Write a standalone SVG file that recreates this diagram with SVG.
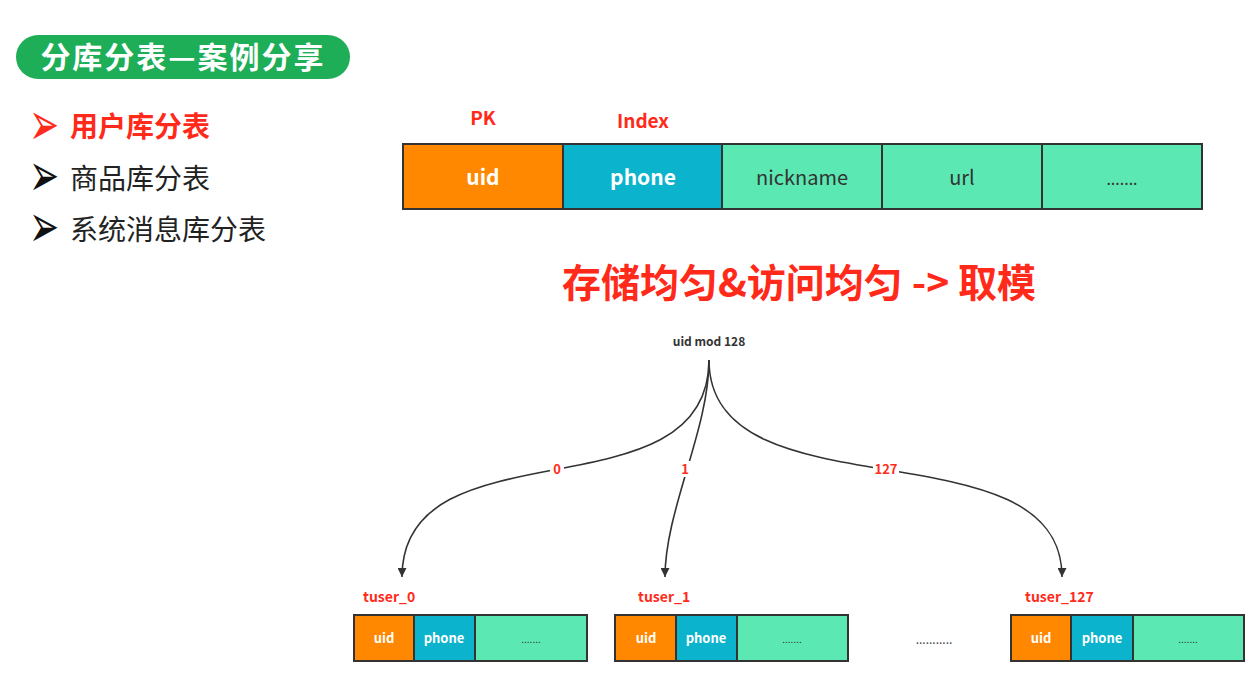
<svg xmlns="http://www.w3.org/2000/svg" width="1256" height="678" viewBox="0 0 1256 678">
<defs>
<style>
text{font-family:"Noto Sans CJK SC","Noto Sans",sans-serif}
.cell{stroke:#333;stroke-width:2}
.uid{fill:#FF8800}
.ph{fill:#0BB3CC}
.gr{fill:#5CE8B2}
.wt{fill:#fff;font-weight:bold;text-anchor:middle}
.dk{fill:#333;text-anchor:middle}
.red{fill:#FF2A1A;font-weight:bold}
.lbl{fill:#FF2A1A;font-weight:bold;font-size:13px;text-anchor:middle}
.edge{fill:none;stroke:#333;stroke-width:1.6}
.bul{font-family:"DejaVu Sans",sans-serif;font-size:36px}
</style>
<marker id="ah" viewBox="0 0 10 10" refX="10" refY="5" markerWidth="10" markerHeight="9" markerUnits="userSpaceOnUse" orient="auto">
<path d="M0,0 L10,5 L0,10 Z" fill="#333"/>
</marker>
</defs>
<rect width="1256" height="678" fill="#fff"/>

<g id="header">
<rect x="16" y="35" width="334" height="44" rx="22" fill="#1EAE58"/>
<text x="183" y="68" font-size="30" font-weight="bold" fill="#fff" text-anchor="middle" letter-spacing="2">分库分表—案例分享</text>
</g>

<g id="bullets">
<text transform="translate(29,125) scale(1,1.7)" y="12" class="bul" fill="#FF2A1A">➢</text>
<text x="70" y="137" font-size="28" class="red">用户库分表</text>
<text transform="translate(29,176) scale(1,1.7)" y="12" class="bul" fill="#111">➢</text>
<text x="70" y="189" font-size="28" fill="#222">商品库分表</text>
<text transform="translate(29,227) scale(1,1.7)" y="12" class="bul" fill="#111">➢</text>
<text x="70" y="240" font-size="28" fill="#222">系统消息库分表</text>
</g>

<g id="main-table">
<text x="483" y="125" font-size="19" class="red" text-anchor="middle">PK</text>
<text x="643" y="128" font-size="19" class="red" text-anchor="middle">Index</text>
<rect class="cell uid" x="403" y="144" width="160" height="65"/>
<rect class="cell ph" x="563" y="144" width="159" height="65"/>
<rect class="cell gr" x="722" y="144" width="160" height="65"/>
<rect class="cell gr" x="882" y="144" width="160" height="65"/>
<rect class="cell gr" x="1042" y="144" width="160" height="65"/>
<text x="483" y="185" font-size="21" class="wt">uid</text>
<text x="643" y="185" font-size="21" class="wt">phone</text>
<text x="802" y="185" font-size="20" class="dk">nickname</text>
<text x="962" y="185" font-size="20" class="dk">url</text>
<text x="1122" y="185" font-size="16" class="dk">.......</text>
</g>

<text x="799" y="297" font-size="39" class="red" text-anchor="middle">存储均匀&amp;访问均匀 -&gt; 取模</text>

<g id="root">
<text x="709" y="346" font-size="12" font-weight="bold" fill="#333" text-anchor="middle">uid mod 128</text>
</g>

<g id="connectors">
<path class="edge" d="M709,360 C709,520 402,420 402,577" marker-end="url(#ah)"/>
<path class="edge" d="M709,360 C709,430 665,510 665,577" marker-end="url(#ah)"/>
<path class="edge" d="M709,360 C709,520 1062,420 1062,577" marker-end="url(#ah)"/>
<rect x="550" y="461" width="14" height="16" fill="#fff"/>
<text x="557" y="474" class="lbl">0</text>
<rect x="679" y="461" width="12" height="16" fill="#fff"/>
<text x="685" y="474" class="lbl">1</text>
<rect x="873" y="461" width="26" height="16" fill="#fff"/>
<text x="886" y="474" class="lbl">127</text>
</g>

<g id="tuser_0">
<text x="363" y="602" font-size="14" class="red">tuser_0</text>
<rect class="cell uid" x="354" y="615" width="60" height="46"/>
<rect class="cell ph" x="414" y="615" width="61" height="46"/>
<rect class="cell gr" x="475" y="615" width="112" height="46"/>
<text x="384" y="643" font-size="13" class="wt">uid</text>
<text x="444" y="643" font-size="13" class="wt">phone</text>
<text x="531" y="643" font-size="10" class="dk">.......</text>
</g>

<g id="tuser_1">
<text x="638" y="602" font-size="14" class="red">tuser_1</text>
<rect class="cell uid" x="615" y="615" width="61" height="46"/>
<rect class="cell ph" x="676" y="615" width="61" height="46"/>
<rect class="cell gr" x="737" y="615" width="111" height="46"/>
<text x="646" y="643" font-size="13" class="wt">uid</text>
<text x="706" y="643" font-size="13" class="wt">phone</text>
<text x="792" y="643" font-size="10" class="dk">.......</text>
</g>

<text x="934" y="644" font-size="12" fill="#444" text-anchor="middle">...........</text>

<g id="tuser_127">
<text x="1025" y="602" font-size="14" class="red">tuser_127</text>
<rect class="cell uid" x="1011" y="615" width="60" height="46"/>
<rect class="cell ph" x="1071" y="615" width="62" height="46"/>
<rect class="cell gr" x="1133" y="615" width="111" height="46"/>
<text x="1041" y="643" font-size="13" class="wt">uid</text>
<text x="1102" y="643" font-size="13" class="wt">phone</text>
<text x="1188" y="643" font-size="10" class="dk">.......</text>
</g>
</svg>
